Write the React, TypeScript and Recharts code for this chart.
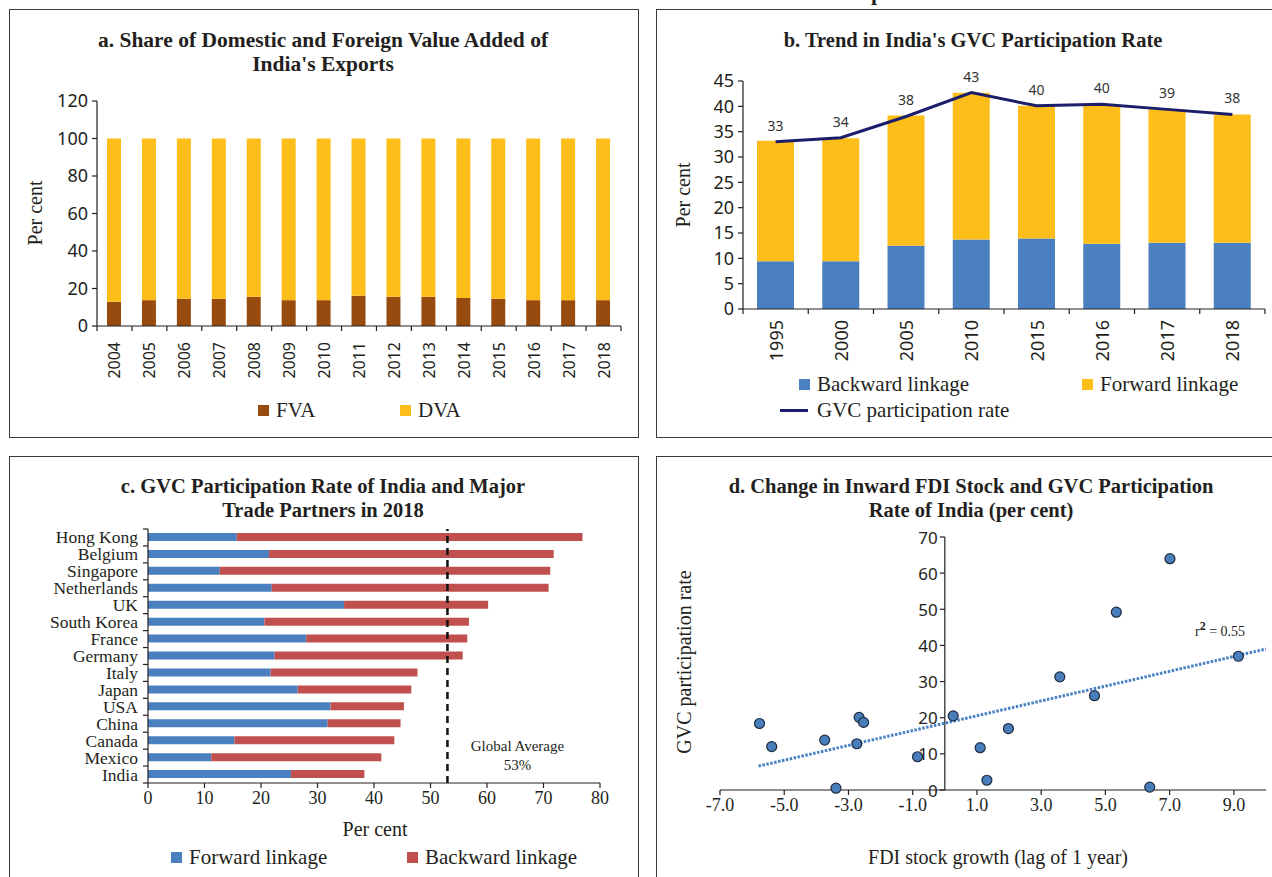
import React from 'react';
import {
  BarChart,
  Bar,
  ComposedChart,
  Line,
  LabelList,
  XAxis,
  YAxis,
  ReferenceLine,
  ScatterChart,
  Scatter,
} from 'recharts';

const SERIF = '"Liberation Serif", "DejaVu Serif", serif';
const SANS = '"Noto Sans", "DejaVu Sans", sans-serif';
const INK = '#231f20';

// ---------- a. Share of domestic and foreign value added ----------
const exportYears = ['2004', '2005', '2006', '2007', '2008', '2009', '2010', '2011', '2012', '2013', '2014', '2015', '2016', '2017', '2018'];
const fvaShare = [12.9, 13.8, 14.5, 14.5, 15.6, 13.8, 13.8, 16.1, 15.6, 15.6, 15.0, 14.5, 13.8, 13.8, 13.8];
const dvaShare = [87.1, 86.2, 85.5, 85.5, 84.4, 86.2, 86.2, 83.9, 84.4, 84.4, 85.0, 85.5, 86.2, 86.2, 86.2];
const shareTicks = [0, 20, 40, 60, 80, 100, 120];

// ---------- b. Trend in GVC participation ----------
const gvcYears = ['1995', '2000', '2005', '2010', '2015', '2016', '2017', '2018'];
const backwardLinkage = [9.4, 9.4, 12.5, 13.7, 13.9, 12.9, 13.1, 13.1];
const forwardLinkage = [23.8, 24.3, 25.7, 29.0, 26.2, 27.4, 26.3, 25.3];
const gvcRate = [33.0, 33.8, 38.0, 42.7, 40.1, 40.4, 39.4, 38.4];
const rateTicks = [0, 5, 10, 15, 20, 25, 30, 35, 40, 45];

// ---------- c. Partners in 2018 ----------
const partners = ['Hong Kong', 'Belgium', 'Singapore', 'Netherlands', 'UK', 'South Korea', 'France', 'Germany', 'Italy', 'Japan', 'USA', 'China', 'Canada', 'Mexico', 'India'];
const partnerForward = [15.7, 21.4, 12.7, 21.9, 34.7, 20.6, 28.0, 22.4, 21.7, 26.5, 32.3, 31.8, 15.3, 11.2, 25.3];
const partnerBackward = [61.2, 50.4, 58.5, 49.0, 25.5, 36.2, 28.5, 33.3, 26.0, 20.1, 13.0, 12.9, 28.3, 30.1, 13.0];
const globalAverage = 53;
const percentTicks = [0, 10, 20, 30, 40, 50, 60, 70, 80];

// ---------- d. FDI stock growth vs GVC participation ----------
const fdiGrowth = [-5.77, -5.39, -3.74, -3.39, -2.67, -2.53, -2.74, -0.85, 0.26, 1.1, 1.31, 1.98, 3.58, 4.66, 5.34, 6.38, 7.01, 9.14];
const gvcParticipation = [18.4, 12.0, 13.8, 0.5, 20.1, 18.7, 12.8, 9.2, 20.5, 11.7, 2.7, 17.0, 31.3, 26.1, 49.2, 0.8, 64.0, 37.0];
const trendStart = { x: -5.8, y: 6.6 };
const trendEnd = { x: 10, y: 39 };
const fdiTicks = [-7, -5, -3, -1, 1, 3, 5, 7, 9];
const gvcTicks = [0, 10, 20, 30, 40, 50, 60, 70];
const FDI_MIN = -7;
const FDI_MAX = 10;

const C_FVA = '#984b0e';
const C_DVA = '#fdbe19';
const C_BLUE = '#4a80bf';
const C_RED = '#c0504d';
const C_NAVY = '#1b1e6b';

const shareData = exportYears.map((year, i) => ({ year, fva: fvaShare[i], dva: dvaShare[i] }));
const trendData = gvcYears.map((year, i) => ({
  year,
  backward: backwardLinkage[i],
  forward: forwardLinkage[i],
  rate: gvcRate[i],
}));
const partnerData = partners.map((country, i) => ({
  country,
  forward: partnerForward[i],
  backward: partnerBackward[i],
}));
const scatterData = fdiGrowth.map((x, i) => ({ x, y: gvcParticipation[i] }));

// chart geometry
const A = { w: 620, h: 345, m: { top: 16, right: 9, left: 27, bottom: 44 }, yw: 60 };
const A_BAND = (A.w - A.m.left - A.m.right - A.yw) / exportYears.length;
const B = { w: 612, h: 310, m: { top: 21, right: 7, left: 33, bottom: 7 }, yw: 50 };
const B_BAND = (B.w - B.m.left - B.m.right - B.yw) / gvcYears.length;
const C = { w: 620, h: 300, m: { top: 9, right: 30, left: 10, bottom: 7 }, yw: 128, xh: 30 };
const C_BAND = (C.h - C.m.top - C.m.bottom - C.xh) / partners.length;
const D = { w: 612, h: 310, m: { top: 17, right: 6, left: 59, bottom: 10 }, yw: 1 };
const D_PLOT_LEFT = D.m.left + D.yw;
const D_ZERO_X = D_PLOT_LEFT + ((0 - FDI_MIN) / (FDI_MAX - FDI_MIN)) * (D.w - D_PLOT_LEFT - D.m.right);

// x-axis tick with boundary tick marks and rotated year label
function makeYearTick(band: number, count: number, gap: number, size: number) {
  return function YearTick(props: any) {
    const { x, y, payload, index } = props;
    const ty = y + gap;
    return (
      <g>
        <line x1={x - band / 2} x2={x - band / 2} y1={y} y2={y + 5} stroke={INK} strokeWidth={1.2} />
        {index === count - 1 && (
          <line x1={x + band / 2} x2={x + band / 2} y1={y} y2={y + 5} stroke={INK} strokeWidth={1.2} />
        )}
        <text
          x={x}
          y={ty}
          transform={`rotate(-90 ${x} ${ty})`}
          textAnchor="end"
          dominantBaseline="central"
          fontFamily={SANS}
          fontSize={size}
          fill={INK}
        >
          {payload.value}
        </text>
      </g>
    );
  };
}

const YearTickA = makeYearTick(A_BAND, exportYears.length, 16, 16);
const YearTickB = makeYearTick(B_BAND, gvcYears.length, 11, 18);

function CountryTick(props: any) {
  const { x, y, payload, index } = props;
  return (
    <g>
      <line x1={x - 5} x2={x} y1={y - C_BAND / 2} y2={y - C_BAND / 2} stroke={INK} strokeWidth={1.2} />
      {index === partners.length - 1 && (
        <line x1={x - 5} x2={x} y1={y + C_BAND / 2} y2={y + C_BAND / 2} stroke={INK} strokeWidth={1.2} />
      )}
      <text x={x - 10} y={y} textAnchor="end" dominantBaseline="central" fontFamily={SERIF} fontSize={17.5} fill={INK}>
        {payload.value}
      </text>
    </g>
  );
}

// y-axis ticks drawn along the vertical line through x = 0
function ZeroAxisTick(props: any) {
  const { y, payload } = props;
  return (
    <g>
      <line x1={D_ZERO_X - 5} x2={D_ZERO_X} y1={y} y2={y} stroke={INK} strokeWidth={1.2} />
      <text x={D_ZERO_X - 7} y={y} textAnchor="end" dominantBaseline="central" fontFamily={SANS} fontSize={17} fill={INK}>
        {payload.value}
      </text>
    </g>
  );
}

function GlobalAverageLabel(props: any) {
  const vb = props.viewBox || {};
  const cx = vb.x + 70;
  const bottom = vb.y + vb.height;
  return (
    <g fontFamily={SERIF} fontSize={15} fill={INK} textAnchor="middle">
      <text x={cx} y={bottom - 37} dominantBaseline="central">Global Average</text>
      <text x={cx} y={bottom - 18} dominantBaseline="central">{`${globalAverage}%`}</text>
    </g>
  );
}

function Dot(props: any) {
  const { cx, cy } = props;
  return <circle cx={cx} cy={cy} r={5} fill="#4a7ebb" stroke="#1e2b40" strokeWidth={1.2} />;
}

function Frame({ left, top, width, height }: { left: number; top: number; width: number; height: number }) {
  return (
    <div
      style={{
        position: 'absolute',
        left,
        top,
        width,
        height,
        border: '1.5px solid #3a3a3a',
        boxSizing: 'border-box',
      }}
    />
  );
}

function Title({ left, top, width, lines, size = 20.5 }: { left: number; top: number; width: number; lines: string[]; size?: number }) {
  return (
    <div
      style={{
        position: 'absolute',
        left,
        top,
        width,
        textAlign: 'center',
        fontFamily: SERIF,
        fontWeight: 700,
        fontSize: size,
        lineHeight: '24px',
        color: INK,
      }}
    >
      {lines.map((l) => (
        <div key={l}>{l}</div>
      ))}
    </div>
  );
}

function AxisTitle({ cx, cy, text, vertical }: { cx: number; cy: number; text: string; vertical?: boolean }) {
  return (
    <div
      style={{
        position: 'absolute',
        left: cx,
        top: cy,
        transform: `translate(-50%, -50%)${vertical ? ' rotate(-90deg)' : ''}`,
        whiteSpace: 'nowrap',
        fontFamily: SERIF,
        fontSize: 20,
        lineHeight: '22px',
        color: INK,
      }}
    >
      {text}
    </div>
  );
}

function LegendItem({ x, y, color, label, kind }: { x: number; y: number; color: string; label: string; kind: 'square' | 'line' }) {
  return (
    <div
      style={{
        position: 'absolute',
        left: x,
        top: y - 12,
        height: 24,
        display: 'flex',
        alignItems: 'center',
        whiteSpace: 'nowrap',
        fontFamily: SERIF,
        fontSize: 21,
        color: INK,
      }}
    >
      {kind === 'square' ? (
        <span style={{ display: 'inline-block', width: 11, height: 11, background: color, marginRight: 7 }} />
      ) : (
        <span style={{ display: 'inline-block', width: 28, height: 3, background: color, marginRight: 9 }} />
      )}
      <span>{label}</span>
    </div>
  );
}

export default function App() {
  return (
    <div
      style={{
        position: 'absolute',
        left: 0,
        top: 0,
        width: 1272,
        height: 877,
        overflow: 'hidden',
        background: '#fff',
      }}
    >
      <svg width={1272} height={12} style={{ position: 'absolute', left: 0, top: 0 }}>
        <text x={877} y={0} textAnchor="middle" fontFamily={SERIF} fontWeight={700} fontSize={22} fill={INK}>
          p
        </text>
      </svg>

      <Frame left={9} top={9} width={630} height={429} />
      <Frame left={656} top={9} width={640} height={429} />
      <Frame left={9} top={456} width={630} height={440} />
      <Frame left={656} top={456} width={640} height={440} />

      {/* a */}
      <Title left={10} top={28} width={626} size={21.5} lines={['a. Share of Domestic and Foreign Value Added of', "India's Exports"]} />
      <AxisTitle cx={35} cy={213} text="Per cent" vertical />
      <div style={{ position: 'absolute', left: 10, top: 85 }}>
        <BarChart width={A.w} height={A.h} data={shareData} margin={A.m} barSize={14}>
          <XAxis
            dataKey="year"
            interval={0}
            height={60}
            tickLine={false}
            tickSize={0}
            tickMargin={0}
            axisLine={{ stroke: INK, strokeWidth: 1.2 }}
            tick={<YearTickA />}
          />
          <YAxis
            width={A.yw}
            domain={[0, 120]}
            ticks={shareTicks}
            interval={0}
            tickSize={5}
            tickMargin={4}
            axisLine={{ stroke: INK, strokeWidth: 1.2 }}
            tickLine={{ stroke: INK, strokeWidth: 1.2 }}
            tick={{ fontFamily: SANS, fontSize: 18, fill: INK }}
          />
          <Bar dataKey="fva" stackId="s" fill={C_FVA} isAnimationActive={false} />
          <Bar dataKey="dva" stackId="s" fill={C_DVA} isAnimationActive={false} />
        </BarChart>
      </div>
      <LegendItem x={258} y={410} color={C_FVA} label="FVA" kind="square" />
      <LegendItem x={400} y={410} color={C_DVA} label="DVA" kind="square" />

      {/* b */}
      <Title left={657} top={28} width={632} lines={["b. Trend in India's GVC Participation Rate"]} />
      <AxisTitle cx={683} cy={195} text="Per cent" vertical />
      <div style={{ position: 'absolute', left: 660, top: 60 }}>
        <ComposedChart width={B.w} height={B.h} data={trendData} margin={B.m} barSize={37}>
          <XAxis
            dataKey="year"
            interval={0}
            height={54}
            tickLine={false}
            tickSize={0}
            tickMargin={0}
            axisLine={{ stroke: INK, strokeWidth: 1.2 }}
            tick={<YearTickB />}
          />
          <YAxis
            width={B.yw}
            domain={[0, 45]}
            ticks={rateTicks}
            interval={0}
            tickSize={5}
            tickMargin={4}
            axisLine={{ stroke: INK, strokeWidth: 1.2 }}
            tickLine={{ stroke: INK, strokeWidth: 1.2 }}
            tick={{ fontFamily: SANS, fontSize: 18, fill: INK }}
          />
          <Bar dataKey="backward" stackId="s" fill={C_BLUE} isAnimationActive={false} />
          <Bar dataKey="forward" stackId="s" fill={C_DVA} isAnimationActive={false} />
          <Line dataKey="rate" stroke={C_NAVY} strokeWidth={3} dot={false} isAnimationActive={false}>
            <LabelList
              dataKey="rate"
              position="top"
              offset={11}
              formatter={(v: any) => Math.round(Number(v))}
              style={{ fontFamily: SANS, fontSize: 14, fill: '#333' }}
            />
          </Line>
        </ComposedChart>
      </div>
      <LegendItem x={799} y={384} color={C_BLUE} label="Backward linkage" kind="square" />
      <LegendItem x={1082} y={384} color={C_DVA} label="Forward linkage" kind="square" />
      <LegendItem x={780} y={410} color={C_NAVY} label="GVC participation rate" kind="line" />

      {/* c */}
      <Title left={10} top={474} width={626} lines={['c. GVC Participation Rate of India and Major', 'Trade Partners in 2018']} />
      <div style={{ position: 'absolute', left: 10, top: 520 }}>
        <BarChart width={C.w} height={C.h} data={partnerData} layout="vertical" margin={C.m} barSize={8}>
          <XAxis
            type="number"
            domain={[0, 80]}
            ticks={percentTicks}
            interval={0}
            height={C.xh}
            tickSize={5}
            tickMargin={3}
            axisLine={{ stroke: INK, strokeWidth: 1.2 }}
            tickLine={{ stroke: INK, strokeWidth: 1.2 }}
            tick={{ fontFamily: SERIF, fontSize: 18, fill: INK }}
          />
          <YAxis
            type="category"
            dataKey="country"
            width={C.yw}
            interval={0}
            tickLine={false}
            tickSize={0}
            tickMargin={0}
            axisLine={{ stroke: INK, strokeWidth: 1.2 }}
            tick={<CountryTick />}
          />
          <Bar dataKey="forward" stackId="s" fill={C_BLUE} isAnimationActive={false} />
          <Bar dataKey="backward" stackId="s" fill={C_RED} isAnimationActive={false} />
          <ReferenceLine
            x={globalAverage}
            stroke="#111"
            strokeWidth={2.5}
            strokeDasharray="7 5"
            label={<GlobalAverageLabel />}
          />
        </BarChart>
      </div>
      <AxisTitle cx={375} cy={829} text="Per cent" />
      <LegendItem x={171} y={857} color={C_BLUE} label="Forward linkage" kind="square" />
      <LegendItem x={407} y={857} color={C_RED} label="Backward linkage" kind="square" />

      {/* d */}
      <Title
        left={657}
        top={474}
        width={628}
        lines={['d. Change in Inward FDI Stock and GVC Participation', 'Rate of India (per cent)']}
      />
      <AxisTitle cx={684} cy={662} text="GVC participation rate" vertical />
      <div style={{ position: 'absolute', left: 660, top: 520 }}>
        <ScatterChart width={D.w} height={D.h} margin={D.m}>
          <XAxis
            type="number"
            dataKey="x"
            domain={[FDI_MIN, FDI_MAX]}
            ticks={fdiTicks}
            interval={0}
            height={30}
            tickSize={5}
            tickMargin={3}
            tickFormatter={(v: number) => v.toFixed(1)}
            axisLine={{ stroke: INK, strokeWidth: 1.2 }}
            tickLine={{ stroke: INK, strokeWidth: 1.2 }}
            tick={{ fontFamily: SERIF, fontSize: 18, fill: INK }}
          />
          <YAxis
            type="number"
            dataKey="y"
            domain={[0, 70]}
            ticks={gvcTicks}
            interval={0}
            width={D.yw}
            axisLine={false}
            tickLine={false}
            tick={<ZeroAxisTick />}
          />
          <ReferenceLine x={0} stroke={INK} strokeWidth={1.2} />
          <ReferenceLine
            segment={[trendStart, trendEnd]}
            stroke="#4a80c4"
            strokeWidth={3}
            strokeDasharray="2.5 1.5"
            ifOverflow="visible"
          />
          <Scatter data={scatterData} shape={<Dot />} isAnimationActive={false} />
        </ScatterChart>
      </div>
      <div
        style={{
          position: 'absolute',
          left: 1195,
          top: 619,
          fontFamily: SERIF,
          fontSize: 14,
          color: INK,
          whiteSpace: 'nowrap',
        }}
      >
        r<sup style={{ fontWeight: 700, fontSize: 12 }}>2</sup> = 0.55
      </div>
      <AxisTitle cx={998} cy={857} text="FDI stock growth (lag of 1 year)" />
    </div>
  );
}
